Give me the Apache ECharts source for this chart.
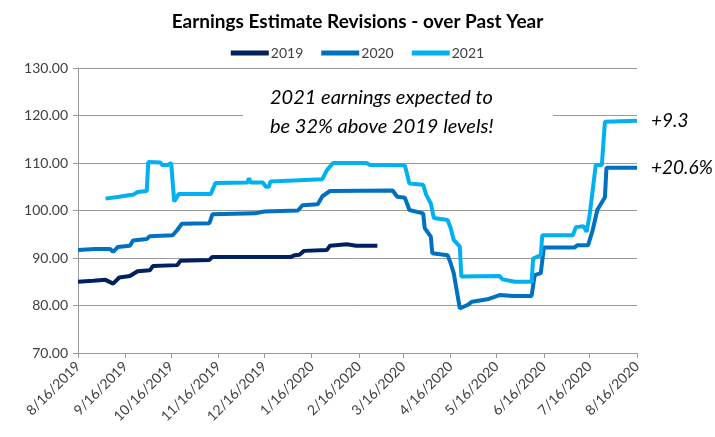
<!DOCTYPE html>
<html>
<head>
<meta charset="utf-8">
<script src="https://cdn.jsdelivr.net/npm/echarts@6/dist/echarts.min.js"></script>
<style>
  html, body { margin: 0; padding: 0; background: #fff; }
  #chart { width: 715px; height: 437px; }
</style>
</head>
<body>
<div id="chart"></div>
<script>
const startDate = '8/16/2019';
const endDate = '8/16/2020';
const seriesNames = ['2019', '2020', '2021'];
const seriesColors = ['#002060', '#0070C0', '#00B0F0'];

// 2019 estimate (vertices of the step line)
const dates2019 = ['8/16/2019', '8/26/2019', '9/3/2019', '9/8/2019', '9/12/2019', '9/19/2019', '9/24/2019',
  '10/2/2019', '10/4/2019', '10/20/2019', '10/22/2019', '11/10/2019', '11/12/2019', '1/2/2020',
  '1/5/2020', '1/8/2020', '1/11/2020', '1/26/2020', '1/28/2020', '2/8/2020', '2/14/2020', '2/28/2020'];
const values2019 = [85.0, 85.2, 85.4, 84.6, 85.9, 86.2, 87.2,
  87.4, 88.3, 88.5, 89.4, 89.6, 90.2, 90.2,
  90.6, 90.7, 91.5, 91.7, 92.6, 92.9, 92.6, 92.6];

// 2020 estimate
const dates2020 = ['8/16/2019', '8/27/2019', '9/6/2019', '9/8/2019', '9/11/2019', '9/19/2019', '9/21/2019',
  '9/30/2019', '10/2/2019', '10/17/2019', '10/20/2019', '10/23/2019', '11/10/2019', '11/12/2019',
  '12/10/2019', '12/16/2019', '1/7/2020', '1/10/2020', '1/20/2020', '1/23/2020', '1/28/2020',
  '3/9/2020', '3/12/2020', '3/17/2020', '3/20/2020', '3/29/2020', '3/30/2020', '4/3/2020', '4/4/2020',
  '4/14/2020', '4/16/2020', '4/18/2020', '4/22/2020', '4/23/2020', '4/27/2020', '4/30/2020',
  '5/10/2020', '5/18/2020', '5/27/2020', '6/8/2020', '6/10/2020', '6/14/2020', '6/16/2020',
  '7/6/2020', '7/8/2020', '7/15/2020', '7/18/2020', '7/21/2020', '7/26/2020', '7/27/2020', '8/16/2020'];
const values2020 = [91.7, 91.9, 91.9, 91.3, 92.3, 92.6, 93.7,
  94.0, 94.6, 94.8, 95.9, 97.2, 97.3, 99.2,
  99.4, 99.8, 100.0, 101.1, 101.3, 103.0, 104.1,
  104.2, 102.9, 102.7, 100.1, 99.4, 96.3, 94.5, 91.0,
  90.6, 88.9, 86.8, 79.4, 79.0, 80.1, 80.8,
  81.3, 82.2, 82.0, 82.0, 86.4, 86.8, 92.2,
  92.2, 92.7, 92.7, 95.9, 100.1, 102.8, 109.0, 109.0];

// 2021 estimate
const dates2021 = ['9/3/2019', '9/12/2019', '9/18/2019', '9/21/2019', '9/24/2019', '9/30/2019', '10/1/2019',
  '10/9/2019', '10/10/2019', '10/14/2019', '10/16/2019', '10/17/2019', '10/18/2019', '10/19/2019',
  '10/21/2019', '11/11/2019', '11/14/2019', '12/5/2019', '12/6/2019', '12/7/2019', '12/15/2019',
  '12/17/2019', '12/19/2019', '12/20/2019', '1/23/2020', '1/26/2020', '1/30/2020', '2/21/2020',
  '2/23/2020', '3/17/2020', '3/20/2020', '3/29/2020', '3/31/2020', '4/3/2020', '4/5/2020',
  '4/14/2020', '4/16/2020', '4/18/2020', '4/22/2020', '4/23/2020', '5/18/2020', '5/20/2020',
  '5/28/2020', '6/8/2020', '6/9/2020', '6/14/2020', '6/15/2020', '7/5/2020', '7/7/2020',
  '7/12/2020', '7/14/2020', '7/16/2020', '7/20/2020', '7/24/2020', '7/26/2020', '8/16/2020'];
const values2021 = [102.5, 102.9, 103.2, 103.3, 103.9, 104.1, 110.2,
  110.1, 109.6, 109.6, 110.0, 110.0, 101.9, 101.8,
  103.5, 103.5, 105.8, 105.9, 106.8, 105.9, 105.9,
  105.0, 105.0, 106.1, 106.6, 108.5, 110.0, 110.0,
  109.6, 109.5, 105.7, 105.4, 103.3, 101.5, 98.4,
  98.0, 96.3, 93.8, 92.4, 86.1, 86.2, 85.5,
  85.0, 85.0, 89.9, 90.6, 94.8, 94.8, 96.5,
  96.7, 95.5, 99.1, 109.6, 109.6, 118.7, 118.9];

const endNotes = ['', '+20.6%', '+9.3'];
const annotation = '2021 earnings expected to\nbe 32% above 2019 levels!';

const fmt = (d) => (d.getMonth() + 1) + '/' + d.getDate() + '/' + d.getFullYear();

const buildDays = () => {
  const days = [];
  const d = new Date(startDate);
  const end = new Date(endDate);
  while (d <= end) {
    days.push(fmt(d));
    d.setDate(d.getDate() + 1);
  }
  return days;
};

const pair = (dates, values) => dates.map((d, i) => [d, values[i]]);

const initChart = () => {
  const chart = echarts.init(document.getElementById('chart'));
  const days = buildDays();
  const isMonthTick = (index, value) => value.split('/')[1] === '16';
  const allDates = [dates2019, dates2020, dates2021];
  const allValues = [values2019, values2020, values2021];

  chart.setOption({
    animation: false,
    textStyle: { fontFamily: 'Lato' },
    title: {
      text: 'Earnings Estimate Revisions - over Past Year',
      left: 'center',
      top: 7,
      textStyle: { fontSize: 19, fontWeight: 'bold', color: '#000', fontFamily: 'Lato' }
    },
    legend: {
      top: 41,
      left: 'center',
      icon: 'rect',
      itemWidth: 38,
      itemHeight: 5,
      itemGap: 18,
      textStyle: { fontSize: 14, color: '#404040', padding: [0, 0, 0, -3] },
      data: seriesNames
    },
    grid: { left: 78, right: 78, top: 68, bottom: 84 },
    xAxis: {
      type: 'category',
      data: days,
      boundaryGap: false,
      axisLine: { lineStyle: { color: '#999', width: 1 } },
      axisTick: { interval: isMonthTick, length: 5, lineStyle: { color: '#999' } },
      axisLabel: { interval: isMonthTick, rotate: 45, fontSize: 14, color: '#404040', margin: 11 },
      splitLine: { show: false }
    },
    yAxis: {
      type: 'value',
      min: 70,
      max: 130,
      interval: 10,
      axisLine: { show: true, lineStyle: { color: '#999', width: 1 } },
      axisTick: { show: true, length: 5, lineStyle: { color: '#999' } },
      axisLabel: { fontSize: 14, color: '#404040', margin: 10, formatter: (v) => v.toFixed(2) },
      splitLine: { lineStyle: { color: '#999', width: 1 } }
    },
    series: seriesNames.map((name, i) => ({
      name: name,
      type: 'line',
      data: pair(allDates[i], allValues[i]),
      showSymbol: false,
      color: seriesColors[i],
      lineStyle: { width: 4, color: seriesColors[i] },
      endLabel: {
        show: endNotes[i] !== '',
        formatter: endNotes[i],
        fontSize: 19,
        fontStyle: 'italic',
        color: '#000',
        distance: 14
      }
    })),
    graphic: [
      {
        type: 'rect',
        left: 243,
        top: 78,
        z: 10,
        shape: { width: 310, height: 66 },
        style: { fill: '#fff' }
      },
      {
        type: 'text',
        left: 270,
        top: 83,
        z: 11,
        style: { text: annotation, font: 'italic 20px Lato', fill: '#000', lineHeight: 29 }
      }
    ]
  });
};

window.addEventListener('load', () => {
  initChart();
});
</script>
</body>
</html>
